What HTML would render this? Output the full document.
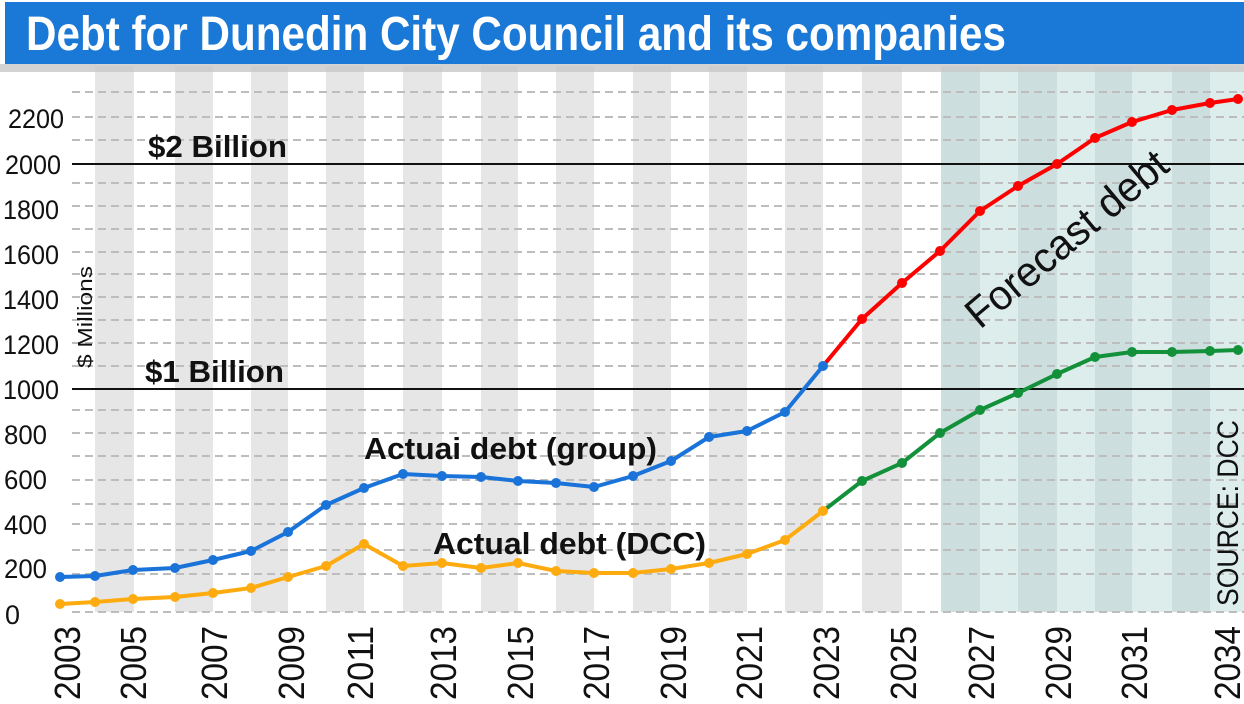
<!DOCTYPE html>
<html><head><meta charset="utf-8"><style>
html,body{margin:0;padding:0;background:#fff;width:1244px;height:704px;overflow:hidden}
svg{display:block}
text{font-family:"Liberation Sans Narrow","Liberation Sans",sans-serif}
</style></head><body>
<svg width="1244" height="704" viewBox="0 0 1244 704" xmlns="http://www.w3.org/2000/svg">
<rect x="0" y="0" width="1244" height="704" fill="#fff"/>
<g fill="#e6e6e6">
<rect x="95" y="66" width="39" height="546"/>
<rect x="175" y="66" width="38" height="546"/>
<rect x="251" y="66" width="37" height="546"/>
<rect x="326" y="66" width="38" height="546"/>
<rect x="403" y="66" width="39" height="546"/>
<rect x="481" y="66" width="37" height="546"/>
<rect x="556" y="66" width="38" height="546"/>
<rect x="633" y="66" width="38" height="546"/>
<rect x="709" y="66" width="38" height="546"/>
<rect x="785" y="66" width="38" height="546"/>
<rect x="862" y="66" width="40" height="546"/>
</g>
<rect x="941" y="66" width="303" height="546" fill="#dcedec"/>
<g fill="#cddede">
<rect x="941" y="66" width="39" height="546"/>
<rect x="1018" y="66" width="39" height="546"/>
<rect x="1095" y="66" width="37" height="546"/>
<rect x="1172" y="66" width="38" height="546"/>
</g>
<rect x="0" y="64" width="1244" height="8" fill="#c8c8c8" opacity="0.8"/>
<g stroke="#bdbdbd" stroke-width="2" stroke-dasharray="8,5">
<line x1="72" y1="92" x2="1244" y2="92"/>
<line x1="72" y1="117" x2="1244" y2="117"/>
<line x1="72" y1="140" x2="1244" y2="140"/>
<line x1="72" y1="183" x2="1244" y2="183"/>
<line x1="72" y1="206" x2="1244" y2="206"/>
<line x1="72" y1="229" x2="1244" y2="229"/>
<line x1="72" y1="252" x2="1244" y2="252"/>
<line x1="72" y1="274" x2="1244" y2="274"/>
<line x1="72" y1="297" x2="1244" y2="297"/>
<line x1="72" y1="320" x2="1244" y2="320"/>
<line x1="72" y1="343" x2="1244" y2="343"/>
<line x1="72" y1="366" x2="1244" y2="366"/>
<line x1="72" y1="410" x2="1244" y2="410"/>
<line x1="72" y1="433" x2="1244" y2="433"/>
<line x1="72" y1="456" x2="1244" y2="456"/>
<line x1="72" y1="480" x2="1244" y2="480"/>
<line x1="72" y1="504" x2="1244" y2="504"/>
<line x1="72" y1="524" x2="1244" y2="524"/>
<line x1="72" y1="550" x2="1244" y2="550"/>
<line x1="72" y1="574" x2="1244" y2="574"/>
<line x1="72" y1="612" x2="1244" y2="612"/>
</g>
<line x1="72" y1="164" x2="1244" y2="164" stroke="#111" stroke-width="2"/>
<line x1="72" y1="389" x2="1244" y2="389" stroke="#111" stroke-width="2"/>
<rect x="5" y="2" width="1239" height="62" fill="#1a78d6"/>
<text x="26" y="50" font-size="48" font-weight="bold" fill="#fff" textLength="980" lengthAdjust="spacingAndGlyphs">Debt for Dunedin City Council and its companies</text>
<g font-size="27" fill="#111" lengthAdjust="spacingAndGlyphs">
<text x="8" y="128" textLength="56" lengthAdjust="spacingAndGlyphs">2200</text>
<text x="5" y="174" textLength="56" lengthAdjust="spacingAndGlyphs">2000</text>
<text x="3" y="219" textLength="56" lengthAdjust="spacingAndGlyphs">1800</text>
<text x="3" y="264" textLength="56" lengthAdjust="spacingAndGlyphs">1600</text>
<text x="3" y="309" textLength="56" lengthAdjust="spacingAndGlyphs">1400</text>
<text x="3" y="354" textLength="56" lengthAdjust="spacingAndGlyphs">1200</text>
<text x="3" y="399" textLength="56" lengthAdjust="spacingAndGlyphs">1000</text>
<text x="4" y="444" textLength="43" lengthAdjust="spacingAndGlyphs">800</text>
<text x="4" y="489" textLength="43" lengthAdjust="spacingAndGlyphs">600</text>
<text x="4" y="534" textLength="43" lengthAdjust="spacingAndGlyphs">400</text>
<text x="4" y="578" textLength="43" lengthAdjust="spacingAndGlyphs">200</text>
<text x="5" y="624" textLength="15" lengthAdjust="spacingAndGlyphs">0</text>
</g>
<text transform="translate(92,368) rotate(-90)" font-size="20" fill="#111" textLength="102" lengthAdjust="spacingAndGlyphs">$ Millions</text>
<g font-size="31" font-weight="bold" fill="#111">
<text x="148" y="157" textLength="139" lengthAdjust="spacingAndGlyphs">$2 Billion</text>
<text x="145" y="382" textLength="139" lengthAdjust="spacingAndGlyphs">$1 Billion</text>
<text x="364" y="459" textLength="293" lengthAdjust="spacingAndGlyphs">Actuai debt (group)</text>
<text x="433" y="554" textLength="273" lengthAdjust="spacingAndGlyphs">Actual debt (DCC)</text>
</g>
<text transform="translate(980,330) rotate(-40)" font-size="42" fill="#111" textLength="250" lengthAdjust="spacingAndGlyphs">Forecast debt</text>
<text transform="translate(1238,606) rotate(-90)" font-size="30" fill="#111" textLength="186" lengthAdjust="spacingAndGlyphs">SOURCE: DCC</text>
<g fill="none" stroke-width="4" stroke-linejoin="round">
<polyline stroke="#1a73d8" points="60,577 95,576 133,570 175,568 213,560 251,551 288,532 326,505 364,488 403,474 442,476 481,477 518,481 556,483 594,487 633,476 671,461 709,437 747,431 785,412 823,366"/>
<polyline stroke="#f00" points="823,366 862,319 902,283 940,251 980,211 1018,186 1057,164 1095,138 1132,122 1172,110 1210,103 1238,99"/>
<polyline stroke="#fdab0f" points="60,604 95,602 133,599 175,597 213,593 251,588 288,577 326,566 364,544 403,566 442,563 481,568 518,563 556,571 594,573 633,573 671,569 709,563 747,554 785,540 823,511"/>
<polyline stroke="#12913a" points="823,511 862,481 902,463 940,433 980,410 1018,393 1057,374 1095,357 1132,352 1172,352 1210,351 1238,350"/>
</g>
<g fill="#1a73d8">
<circle cx="60" cy="577" r="5"/><circle cx="95" cy="576" r="5"/><circle cx="133" cy="570" r="5"/><circle cx="175" cy="568" r="5"/><circle cx="213" cy="560" r="5"/><circle cx="251" cy="551" r="5"/><circle cx="288" cy="532" r="5"/><circle cx="326" cy="505" r="5"/><circle cx="364" cy="488" r="5"/><circle cx="403" cy="474" r="5"/><circle cx="442" cy="476" r="5"/><circle cx="481" cy="477" r="5"/><circle cx="518" cy="481" r="5"/><circle cx="556" cy="483" r="5"/><circle cx="594" cy="487" r="5"/><circle cx="633" cy="476" r="5"/><circle cx="671" cy="461" r="5"/><circle cx="709" cy="437" r="5"/><circle cx="747" cy="431" r="5"/><circle cx="785" cy="412" r="5"/><circle cx="823" cy="366" r="5"/>
</g>
<g fill="#f00">
<circle cx="862" cy="319" r="5"/><circle cx="902" cy="283" r="5"/><circle cx="940" cy="251" r="5"/><circle cx="980" cy="211" r="5"/><circle cx="1018" cy="186" r="5"/><circle cx="1057" cy="164" r="5"/><circle cx="1095" cy="138" r="5"/><circle cx="1132" cy="122" r="5"/><circle cx="1172" cy="110" r="5"/><circle cx="1210" cy="103" r="5"/><circle cx="1238" cy="99" r="5"/>
</g>
<g fill="#fdab0f">
<circle cx="60" cy="604" r="5"/><circle cx="95" cy="602" r="5"/><circle cx="133" cy="599" r="5"/><circle cx="175" cy="597" r="5"/><circle cx="213" cy="593" r="5"/><circle cx="251" cy="588" r="5"/><circle cx="288" cy="577" r="5"/><circle cx="326" cy="566" r="5"/><circle cx="364" cy="544" r="5"/><circle cx="403" cy="566" r="5"/><circle cx="442" cy="563" r="5"/><circle cx="481" cy="568" r="5"/><circle cx="518" cy="563" r="5"/><circle cx="556" cy="571" r="5"/><circle cx="594" cy="573" r="5"/><circle cx="633" cy="573" r="5"/><circle cx="671" cy="569" r="5"/><circle cx="709" cy="563" r="5"/><circle cx="747" cy="554" r="5"/><circle cx="785" cy="540" r="5"/><circle cx="823" cy="511" r="5"/>
</g>
<g fill="#12913a">
<circle cx="862" cy="481" r="5"/><circle cx="902" cy="463" r="5"/><circle cx="940" cy="433" r="5"/><circle cx="980" cy="410" r="5"/><circle cx="1018" cy="393" r="5"/><circle cx="1057" cy="374" r="5"/><circle cx="1095" cy="357" r="5"/><circle cx="1132" cy="352" r="5"/><circle cx="1172" cy="352" r="5"/><circle cx="1210" cy="351" r="5"/><circle cx="1238" cy="350" r="5"/>
</g>
<g font-size="36" fill="#111">
<text transform="translate(80,700) rotate(-90)" textLength="74" lengthAdjust="spacingAndGlyphs">2003</text>
<text transform="translate(146,700) rotate(-90)" textLength="74" lengthAdjust="spacingAndGlyphs">2005</text>
<text transform="translate(227,700) rotate(-90)" textLength="74" lengthAdjust="spacingAndGlyphs">2007</text>
<text transform="translate(304,700) rotate(-90)" textLength="74" lengthAdjust="spacingAndGlyphs">2009</text>
<text transform="translate(373,700) rotate(-90)" textLength="74" lengthAdjust="spacingAndGlyphs">2011</text>
<text transform="translate(456,700) rotate(-90)" textLength="74" lengthAdjust="spacingAndGlyphs">2013</text>
<text transform="translate(533,700) rotate(-90)" textLength="74" lengthAdjust="spacingAndGlyphs">2015</text>
<text transform="translate(609,700) rotate(-90)" textLength="74" lengthAdjust="spacingAndGlyphs">2017</text>
<text transform="translate(686,700) rotate(-90)" textLength="74" lengthAdjust="spacingAndGlyphs">2019</text>
<text transform="translate(762,700) rotate(-90)" textLength="74" lengthAdjust="spacingAndGlyphs">2021</text>
<text transform="translate(839,700) rotate(-90)" textLength="74" lengthAdjust="spacingAndGlyphs">2023</text>
<text transform="translate(916,700) rotate(-90)" textLength="74" lengthAdjust="spacingAndGlyphs">2025</text>
<text transform="translate(994,700) rotate(-90)" textLength="74" lengthAdjust="spacingAndGlyphs">2027</text>
<text transform="translate(1071,700) rotate(-90)" textLength="74" lengthAdjust="spacingAndGlyphs">2029</text>
<text transform="translate(1147,700) rotate(-90)" textLength="74" lengthAdjust="spacingAndGlyphs">2031</text>
<text transform="translate(1240,700) rotate(-90)" textLength="74" lengthAdjust="spacingAndGlyphs">2034</text>
</g>
</svg>
</body></html>
